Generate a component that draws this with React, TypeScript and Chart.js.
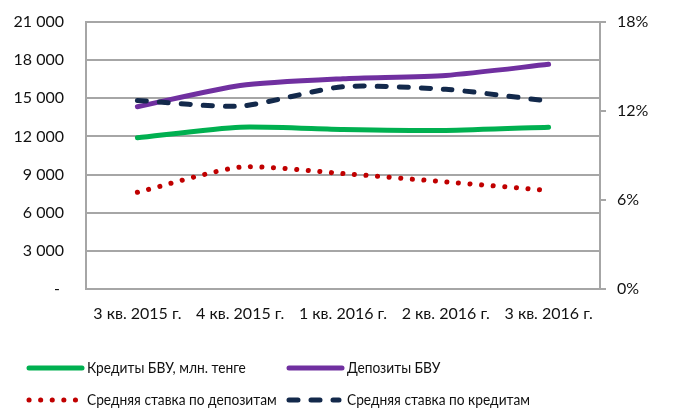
import React, { useEffect, useRef } from "react";
import { Chart, registerables } from "chart.js";

Chart.register(...registerables);

const categories = ["3 кв. 2015 г.", "4 кв. 2015 г.", "1 кв. 2016 г.", "2 кв. 2016 г.", "3 кв. 2016 г."];
const loans = [11900, 12730, 12550, 12470, 12730];
const deposits = [14340, 16010, 16540, 16800, 17670];
const depositRate = [6.52, 8.21, 7.78, 7.22, 6.64];
const loanRate = [12.71, 12.33, 13.64, 13.46, 12.67];
const seriesNames = [
  "Кредиты БВУ, млн. тенге",
  "Депозиты БВУ",
  "Средняя ставка по депозитам",
  "Средняя ставка по кредитам",
];

const FONT = "Lato, 'Open Sans', sans-serif";
const GRID = "#a6a6a6";
const TEXT = "#111111";
const CLEAR = "rgba(0,0,0,0)";

const fmtThousands = (v: number) =>
  v === 0 ? "- " : String(v).replace(/\B(?=(\d{3})+(?!\d))/g, " ");

const legendPlugin = {
  id: "customLegend",
  afterDraw(chart: any) {
    const ctx = chart.ctx;
    const slots = [
      { x: 27, y: 368 },
      { x: 287, y: 368 },
      { x: 27, y: 400 },
      { x: 287, y: 400 },
    ];
    chart.data.datasets.forEach((ds: any, i: number) => {
      const s = slots[i];
      ctx.save();
      ctx.strokeStyle = ds.borderColor;
      ctx.lineWidth = 5;
      ctx.lineCap = "round";
      ctx.setLineDash(ds.borderDash || []);
      ctx.beginPath();
      const len = ds.borderDash && ds.borderDash.length ? 50 : 53;
      ctx.moveTo(s.x + 2, s.y);
      ctx.lineTo(s.x + 2 + len, s.y);
      ctx.stroke();
      ctx.setLineDash([]);
      ctx.fillStyle = TEXT;
      ctx.font = "16px " + FONT;
      ctx.textBaseline = "middle";
      ctx.textAlign = "left";
      ctx.translate(s.x + 60, s.y);
      ctx.scale(0.86, 1);
      ctx.fillText(ds.label, 0, 0);
      ctx.restore();
    });
  },
};

export default function App() {
  const ref = useRef<HTMLCanvasElement | null>(null);
  useEffect(() => {
    document.body.style.margin = "0";
    if (!ref.current) return;
    const chart = new Chart(ref.current, {
      type: "line",
      data: {
        labels: categories,
        datasets: [
          {
            label: seriesNames[0],
            data: loans,
            borderColor: "#00b050",
            borderWidth: 5,
            yAxisID: "y",
            order: 3,
          },
          {
            label: seriesNames[1],
            data: deposits,
            borderColor: "#7030a0",
            borderWidth: 5,
            yAxisID: "y",
            order: 2,
          },
          {
            label: seriesNames[2],
            data: depositRate,
            borderColor: "#c00000",
            borderWidth: 5,
            borderDash: [0.1, 11.5],
            borderCapStyle: "round",
            yAxisID: "y1",
            order: 1,
          },
          {
            label: seriesNames[3],
            data: loanRate,
            borderColor: "#13294b",
            borderWidth: 5,
            borderDash: [9, 13],
            borderCapStyle: "round",
            yAxisID: "y1",
            order: 0,
          },
        ] as any,
      },
      options: {
        animation: false,
        responsive: false,
        maintainAspectRatio: false,
        elements: {
          point: { radius: 0, hoverRadius: 0 },
          line: { tension: 0.22, borderCapStyle: "round", fill: false },
        },
        layout: { padding: { top: 22, bottom: 78, left: 0, right: 0 } },
        plugins: {
          legend: { display: false },
          tooltip: { enabled: false },
        },
        scales: {
          x: {
            offset: true,
            grid: { display: false, offset: true },
            border: { display: false },
            ticks: {
              color: TEXT,
              font: { family: FONT, size: 16 },
              padding: 7,
              maxRotation: 0,
              autoSkip: false,
            },
            afterFit(scale: any) {
              scale.height = 41;
            },
          },
          y: {
            position: "left",
            min: 0,
            max: 21000,
            ticks: {
              stepSize: 3000,
              color: TEXT,
              font: { family: FONT, size: 16 },
              padding: 0,
              callback: (v: any) => fmtThousands(Number(v)),
            },
            grid: {
              color: GRID,
              lineWidth: 2,
              drawTicks: true,
              tickLength: 22,
              tickColor: CLEAR,
            },
            border: { display: true, color: GRID, width: 2 },
            afterFit(scale: any) {
              scale.width = 86;
            },
          },
          y1: {
            position: "right",
            min: 0,
            max: 18,
            ticks: {
              stepSize: 6,
              color: TEXT,
              font: { family: FONT, size: 16 },
              padding: 11,
              callback: (v: any) => Number(v) + "%",
            },
            grid: {
              drawOnChartArea: false,
              drawTicks: true,
              tickLength: 6,
              color: GRID,
              lineWidth: 2,
            },
            border: { display: true, color: GRID, width: 2 },
            afterFit(scale: any) {
              scale.width = 73;
            },
          },
        },
      } as any,
      plugins: [legendPlugin],
    });
    return () => chart.destroy();
  }, []);
  return (
    <div style={{ width: 673, height: 408, background: "#fff" }}>
      <canvas ref={ref} width={673} height={408} style={{ display: "block" }} />
    </div>
  );
}
